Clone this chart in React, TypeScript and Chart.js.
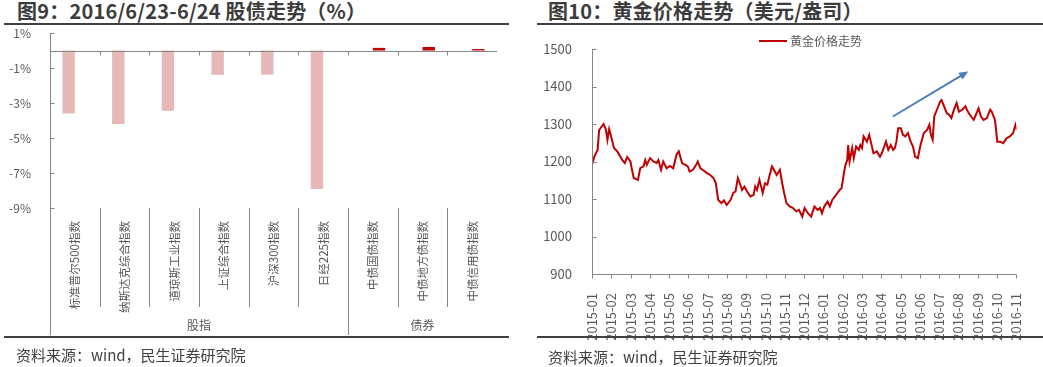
import React, { useEffect, useRef } from 'react';
import { Chart, registerables } from 'chart.js';

Chart.register(...registerables);

const FONT = '"Noto Sans CJK SC", "Noto Sans", sans-serif';
const AXIS_COLOR = '#868686';
const LABEL_COLOR = '#595959';

// ---------- Figure 9 data ----------
const marketCategories = [
  '标准普尔500指数', '纳斯达克综合指数', '道琼斯工业指数', '上证综合指数', '沪深300指数',
  '日经225指数', '中债国债指数', '中债地方债指数', '中债信用债指数',
];
const stockChanges = [-3.6, -4.2, -3.45, -1.39, -1.38, -7.92, null, null, null];
const bondChanges = [null, null, null, null, null, null, 0.15, 0.2, 0.08];
const groupLabels = ['股指', '债券'];
const groupStarts = [0, 6];
const groupEnds = [5, 8];
const marketYTicks = [-9, -7, -5, -3, -1, 1];

// ---------- Figure 10 data ----------
const goldMonthLabels = [
  '2015-01', '2015-02', '2015-03', '2015-04', '2015-05', '2015-06', '2015-07', '2015-08',
  '2015-09', '2015-10', '2015-11', '2015-12', '2016-01', '2016-02', '2016-03', '2016-04',
  '2016-05', '2016-06', '2016-07', '2016-08', '2016-09', '2016-10', '2016-11',
];
// time in months since 2015-01
const goldTime = [
  0, 0.12, 0.29, 0.37, 0.6, 0.72, 0.8, 0.89, 0.97, 1.14, 1.31, 1.57, 1.7, 1.82, 1.99,
  2.16, 2.38, 2.5, 2.67, 2.76, 2.84, 3.01, 3.18, 3.35, 3.44, 3.58, 3.69, 3.87, 4.04, 4.21,
  4.38, 4.5, 4.67, 4.84, 4.97, 5.06, 5.23, 5.4, 5.48, 5.62, 5.79, 5.96, 6.13, 6.3, 6.42,
  6.54, 6.71, 6.84, 6.98, 7.19, 7.32, 7.44, 7.56, 7.66, 7.78, 7.9, 8.04, 8.21, 8.38, 8.46,
  8.55, 8.68, 8.85, 8.97, 9.09, 9.19, 9.33, 9.43, 9.57, 9.74, 9.86, 9.96, 10.08, 10.25, 10.42,
  10.59, 10.73, 10.9, 11.02, 11.19, 11.36, 11.53, 11.7, 11.82, 11.92, 12.04, 12.21, 12.33, 12.46, 12.6,
  12.72, 12.84, 12.94, 13.06, 13.14, 13.23, 13.28, 13.35, 13.49, 13.57, 13.69, 13.83, 13.91, 14.0, 14.08,
  14.25, 14.37, 14.47, 14.59, 14.76, 14.93, 15.02, 15.15, 15.24, 15.36, 15.49, 15.61, 15.7, 15.78, 15.87,
  16.01, 16.12, 16.24, 16.38, 16.52, 16.64, 16.75, 16.89, 17.03, 17.2, 17.37, 17.49, 17.57, 17.66, 17.74,
  17.88, 18.05, 18.12, 18.25, 18.39, 18.51, 18.63, 18.73, 18.9, 19.02, 19.19, 19.36, 19.48, 19.65, 19.79,
  20.04, 20.16, 20.3, 20.47, 20.64, 20.72, 20.89, 21.01, 21.15, 21.32, 21.49, 21.66, 21.83, 21.95, 22.03,
];
const goldPrice = [
  1191, 1213, 1231, 1284, 1300, 1286, 1258, 1286, 1271, 1236, 1227, 1204, 1196, 1212, 1200,
  1156, 1151, 1182, 1187, 1204, 1191, 1209, 1200, 1196, 1204, 1178, 1200, 1182, 1188, 1182,
  1218, 1227, 1196, 1191, 1187, 1173, 1178, 1191, 1200, 1182, 1176, 1169, 1164, 1156, 1142,
  1098, 1089, 1096, 1084, 1098, 1116, 1120, 1156, 1142, 1124, 1133, 1120, 1107, 1111, 1133,
  1124, 1151, 1116, 1142, 1138, 1160, 1187, 1178, 1164, 1178, 1142, 1116, 1089, 1080, 1076,
  1067, 1071, 1053, 1076, 1062, 1053, 1080, 1071, 1076, 1062, 1080, 1093, 1080, 1098, 1107,
  1116, 1124, 1129, 1169, 1191, 1204, 1244, 1200, 1236, 1209, 1240, 1231, 1244, 1236, 1267,
  1253, 1271, 1249, 1222, 1227, 1213, 1222, 1240, 1253, 1231, 1244, 1231, 1236, 1253, 1289,
  1289, 1271, 1267, 1276, 1253, 1240, 1213, 1209, 1244, 1276, 1284, 1298, 1271, 1258, 1320,
  1338, 1360, 1364, 1347, 1329, 1324, 1316, 1333, 1356, 1333, 1338, 1347, 1333, 1320, 1311,
  1342, 1320, 1311, 1316, 1338, 1333, 1311, 1253, 1253, 1249, 1262, 1267, 1276, 1298, 1284,
];
const goldYMin = 900;
const goldYMax = 1500;
const goldYStep = 100;
const trendArrowFrom = [15.6, 1320];
const trendArrowTo = [19.5, 1440];

const crisp = (v: number) => Math.round(v) + 0.5;

const marketDecor = {
  id: 'marketDecor',
  afterDraw(chart: any) {
    const { ctx, chartArea, scales } = chart;
    const xs = scales.x;
    const ys = scales.y;
    const n = marketCategories.length;
    const boundary = (i: number) => (xs.getPixelForTick(i - 1) + xs.getPixelForTick(i)) / 2;
    const shortBottom = 307;
    const longBottom = 335;
    ctx.save();
    ctx.strokeStyle = AXIS_COLOR;
    ctx.lineWidth = 1;
    ctx.beginPath();
    const lx = crisp(chartArea.left);
    ctx.moveTo(lx, chartArea.top);
    ctx.lineTo(lx, longBottom);
    marketYTicks.forEach((v) => {
      const y = crisp(ys.getPixelForValue(v));
      ctx.moveTo(lx, y);
      ctx.lineTo(lx + 4, y);
    });
    const y0 = crisp(ys.getPixelForValue(0));
    ctx.moveTo(chartArea.left, y0);
    ctx.lineTo(chartArea.right, y0);
    for (let i = 1; i < n; i++) {
      const bx = crisp(boundary(i));
      ctx.moveTo(bx, y0);
      ctx.lineTo(bx, y0 + 4);
      const isGroupEdge = groupStarts.includes(i);
      ctx.moveTo(bx, chartArea.bottom);
      ctx.lineTo(bx, isGroupEdge ? longBottom : shortBottom);
    }
    ctx.stroke();
    ctx.fillStyle = LABEL_COLOR;
    ctx.font = `12px ${FONT}`;
    ctx.textAlign = 'center';
    ctx.textBaseline = 'middle';
    groupLabels.forEach((lab, g) => {
      const a = groupStarts[g] === 0 ? chartArea.left : boundary(groupStarts[g]);
      const b = groupEnds[g] === n - 1 ? chartArea.right : boundary(groupEnds[g] + 1);
      ctx.fillText(lab, (a + b) / 2, 325);
    });
    ctx.restore();
  },
};

const goldDecor = {
  id: 'goldDecor',
  afterDraw(chart: any) {
    const { ctx, chartArea, scales } = chart;
    const xs = scales.x;
    const ys = scales.y;
    ctx.save();
    ctx.strokeStyle = AXIS_COLOR;
    ctx.lineWidth = 1;
    ctx.beginPath();
    const lx = crisp(chartArea.left);
    const by = crisp(chartArea.bottom);
    ctx.moveTo(lx, chartArea.top);
    ctx.lineTo(lx, by);
    ctx.lineTo(chartArea.right, by);
    for (let v = goldYMin; v <= goldYMax; v += goldYStep) {
      const y = crisp(ys.getPixelForValue(v));
      ctx.moveTo(lx, y);
      ctx.lineTo(lx + 4, y);
    }
    goldMonthLabels.forEach((_, i) => {
      const x = crisp(xs.getPixelForValue(i));
      ctx.moveTo(x, by);
      ctx.lineTo(x, by + 4);
    });
    ctx.stroke();
    // trend arrow
    const x1 = xs.getPixelForValue(trendArrowFrom[0]);
    const y1 = ys.getPixelForValue(trendArrowFrom[1]);
    const x2 = xs.getPixelForValue(trendArrowTo[0]);
    const y2 = ys.getPixelForValue(trendArrowTo[1]);
    const ang = Math.atan2(y2 - y1, x2 - x1);
    const head = 9;
    ctx.strokeStyle = '#4A7EBB';
    ctx.fillStyle = '#4A7EBB';
    ctx.lineWidth = 2;
    ctx.beginPath();
    ctx.moveTo(x1, y1);
    ctx.lineTo(x2 - Math.cos(ang) * head * 0.8, y2 - Math.sin(ang) * head * 0.8);
    ctx.stroke();
    ctx.beginPath();
    ctx.moveTo(x2, y2);
    ctx.lineTo(x2 - head * Math.cos(ang) + 4 * Math.sin(ang), y2 - head * Math.sin(ang) - 4 * Math.cos(ang));
    ctx.lineTo(x2 - head * Math.cos(ang) - 4 * Math.sin(ang), y2 - head * Math.sin(ang) + 4 * Math.cos(ang));
    ctx.closePath();
    ctx.fill();
    ctx.restore();
  },
};

function MarketChart() {
  const ref = useRef<HTMLCanvasElement>(null);
  useEffect(() => {
    const chart = new Chart(ref.current as HTMLCanvasElement, {
      type: 'bar',
      data: {
        labels: marketCategories,
        datasets: [
          {
            data: stockChanges as any,
            backgroundColor: '#E6B9B8',
            categoryPercentage: 0.5,
            barPercentage: 1,
          },
          {
            data: bondChanges as any,
            backgroundColor: '#C00000',
            categoryPercentage: 0.5,
            barPercentage: 1,
          },
        ],
      },
      options: {
        animation: false,
        responsive: false,
        devicePixelRatio: 1,
        layout: { padding: { top: 33, right: 23, left: 0, bottom: 0 } },
        plugins: { legend: { display: false }, tooltip: { enabled: false } },
        scales: {
          x: {
            grid: { display: false },
            border: { display: false },
            ticks: {
              autoSkip: false,
              maxRotation: 90,
              minRotation: 90,
              padding: 5,
              color: LABEL_COLOR,
              font: { family: FONT, size: 11.5 },
            },
            afterFit: (s: any) => { s.height = 159; },
          },
          y: {
            min: -9,
            max: 1,
            grid: { display: false },
            border: { display: false },
            afterBuildTicks: (s: any) => { s.ticks = marketYTicks.map((v) => ({ value: v })); },
            ticks: {
              padding: 11,
              color: LABEL_COLOR,
              font: { family: FONT, size: 12 },
              callback: (v: any) => `${v}%`,
            },
            afterFit: (s: any) => { s.width = 50; },
          },
        },
      },
      plugins: [marketDecor],
    });
    return () => chart.destroy();
  }, []);
  return <canvas ref={ref} width={520} height={367} style={{ position: 'absolute', left: 0, top: 0, width: 520, height: 367 }} />;
}

function GoldChart() {
  const ref = useRef<HTMLCanvasElement>(null);
  useEffect(() => {
    const chart = new Chart(ref.current as HTMLCanvasElement, {
      type: 'line',
      data: {
        datasets: [
          {
            label: '黄金价格走势',
            data: goldTime.map((t, i) => ({ x: t, y: goldPrice[i] })),
            borderColor: '#C00000',
            borderWidth: 2,
            pointRadius: 0,
            tension: 0,
            fill: false,
          },
        ],
      },
      options: {
        animation: false,
        responsive: false,
        devicePixelRatio: 1,
        layout: { padding: { top: 49, right: 20, left: 0, bottom: 0 } },
        plugins: { legend: { display: false }, tooltip: { enabled: false } },
        scales: {
          x: {
            type: 'linear',
            min: 0,
            max: goldMonthLabels.length - 1,
            grid: { display: false },
            border: { display: false },
            afterBuildTicks: (s: any) => { s.ticks = goldMonthLabels.map((_, i) => ({ value: i })); },
            ticks: {
              autoSkip: false,
              maxRotation: 90,
              minRotation: 90,
              padding: 11,
              color: LABEL_COLOR,
              font: { family: FONT, size: 13 },
              callback: (v: any) => goldMonthLabels[v] ?? '',
            },
            afterFit: (s: any) => { s.height = 93; },
          },
          y: {
            min: goldYMin,
            max: goldYMax,
            grid: { display: false },
            border: { display: false },
            ticks: {
              stepSize: goldYStep,
              padding: 12,
              color: LABEL_COLOR,
              font: { family: FONT, size: 13 },
              callback: (v: any) => String(v),
            },
            afterFit: (s: any) => { s.width = 72; },
          },
        },
      },
      plugins: [goldDecor],
    });
    return () => chart.destroy();
  }, []);
  return <canvas ref={ref} width={523} height={367} style={{ position: 'absolute', left: 520, top: 0, width: 523, height: 367 }} />;
}

const titleStyle: React.CSSProperties = {
  position: 'absolute',
  top: 0,
  height: 22,
  lineHeight: '22px',
  fontFamily: FONT,
  fontWeight: 700,
  fontSize: 20,
  letterSpacing: '0.2px',
  color: '#3C3C3C',
  whiteSpace: 'nowrap',
};
const sourceStyle: React.CSSProperties = {
  position: 'absolute',
  height: 20,
  lineHeight: '20px',
  fontFamily: FONT,
  fontSize: 15,
  color: '#404040',
  whiteSpace: 'nowrap',
};
const ruleStyle: React.CSSProperties = { position: 'absolute', height: 2, background: '#404040' };

export default function App() {
  return (
    <div style={{ position: 'fixed', left: 0, top: 0, width: 1043, height: 367, background: '#fff', overflow: 'hidden' }}>
      <div style={{ ...titleStyle, left: 17 }}>图9：2016/6/23-6/24 股债走势（%）</div>
      <div style={{ ...titleStyle, left: 548 }}>图10：黄金价格走势（美元/盎司）</div>
      <div style={{ ...ruleStyle, left: 4, width: 505, top: 23 }} />
      <div style={{ ...ruleStyle, left: 537, width: 506, top: 23 }} />
      <MarketChart />
      <GoldChart />
      <div style={{ position: 'absolute', left: 759, top: 40, width: 28, height: 2, background: '#C00000' }} />
      <div style={{ position: 'absolute', left: 790, top: 32, height: 18, lineHeight: '18px', fontFamily: FONT, fontSize: 12, color: LABEL_COLOR, whiteSpace: 'nowrap' }}>黄金价格走势</div>
      <div style={{ ...ruleStyle, left: 4, width: 505, top: 336 }} />
      <div style={{ ...ruleStyle, left: 537, width: 506, top: 336 }} />
      <div style={{ ...sourceStyle, left: 16, top: 345 }}>资料来源：wind，民生证券研究院</div>
      <div style={{ ...sourceStyle, left: 548, top: 347 }}>资料来源：wind，民生证券研究院</div>
    </div>
  );
}
